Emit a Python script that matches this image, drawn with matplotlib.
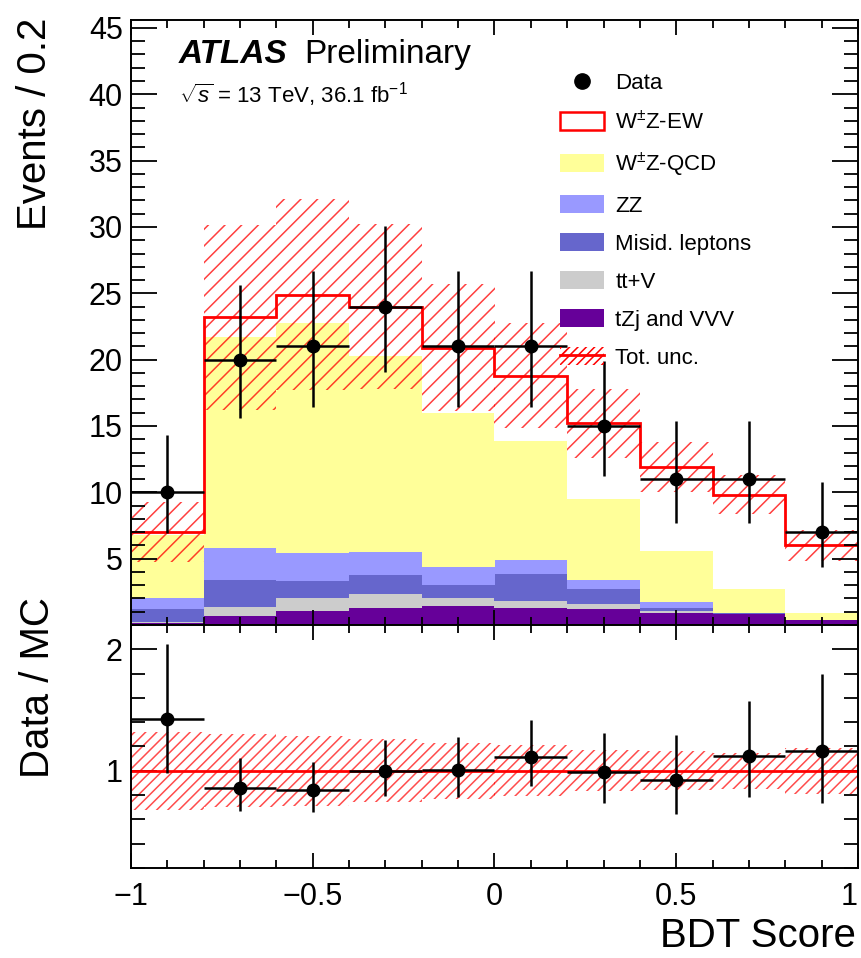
import numpy as np
import matplotlib as mpl
mpl.use('Agg')
import matplotlib.pyplot as plt
from matplotlib.patches import Patch
from matplotlib.lines import Line2D

plt.rcParams['font.family'] = ['Liberation Sans', 'DejaVu Sans']
plt.rcParams['mathtext.fontset'] = 'custom'
plt.rcParams['mathtext.rm'] = 'Liberation Sans'
plt.rcParams['mathtext.it'] = 'Liberation Sans:italic'
plt.rcParams['hatch.linewidth'] = 1.1

# binning of the BDT score
bin_edges = [-1.0, -0.8, -0.6, -0.4, -0.2, 0.0, 0.2, 0.4, 0.6, 0.8, 1.0]

# observed events and asymmetric errors
data = [10, 20, 21, 24, 21, 21, 15, 11, 11, 7]
data_up = [4.3, 5.6, 5.7, 6.1, 5.7, 5.7, 4.9, 4.4, 4.4, 3.8]
data_dn = [3.1, 4.4, 4.6, 4.9, 4.6, 4.6, 3.8, 3.3, 3.3, 2.6]

# predicted yields per process (stacked bottom -> top)
tzj_vvv = [0.15, 0.68, 1.06, 1.26, 1.43, 1.30, 1.18, 0.93, 0.80, 0.35]
ttv = [0.10, 0.68, 1.00, 1.04, 0.63, 0.50, 0.40, 0.10, 0.03, 0.01]
misid = [0.95, 2.04, 1.24, 1.47, 0.93, 2.07, 1.11, 0.27, 0.04, 0.01]
zz = [0.85, 2.40, 2.15, 1.76, 1.38, 1.03, 0.68, 0.40, 0.05, 0.01]
wz_qcd = [4.75, 15.9, 17.35, 14.77, 11.63, 9.0, 6.13, 3.9, 1.78, 0.52]
wz_ew = [0.2, 1.5, 2.1, 3.7, 4.9, 4.9, 5.7, 6.3, 7.1, 5.1]

# relative total uncertainty on the prediction
rel_unc = [0.32, 0.30, 0.29, 0.26, 0.23, 0.21, 0.17, 0.16, 0.15, 0.19]

x_ticks = [-1, -0.5, 0, 0.5, 1]
x_tick_labels = ['\u22121', '\u22120.5', '0', '0.5', '1']
y_ticks = [5, 10, 15, 20, 25, 30, 35, 40, 45]
r_ticks = [1, 2]

stack = [
    (tzj_vvv, '#660099', 'tZj and VVV'),
    (ttv, '#cccccc', 'tt+V'),
    (misid, '#6666cc', 'Misid. leptons'),
    (zz, '#9999ff', 'ZZ'),
    (wz_qcd, '#ffff99', r'W$^{\pm}$Z-QCD'),
    (wz_ew, 'white', r'W$^{\pm}$Z-EW'),
]

edges = np.array(bin_edges)
centers = 0.5 * (edges[1:] + edges[:-1])
width = np.diff(edges)

fig = plt.figure(figsize=(8.61, 9.58), dpi=100)
W, H = 861.0, 958.0
ax = fig.add_axes([131 / W, 1 - 625 / H, 727 / W, 605 / H])
ax2 = fig.add_axes([131 / W, 1 - 868 / H, 727 / W, 243 / H], sharex=ax)

bottom = np.zeros(len(data))
for vals, col, lab in stack:
    ax.bar(centers, vals, width=width, bottom=bottom, color=col, linewidth=0)
    bottom = bottom + np.array(vals)
total = bottom

ax.stairs(total, edges, baseline=None, color='red', lw=2)
unc = total * np.array(rel_unc)
ax.bar(centers, 2 * unc, width=width, bottom=total - unc, fill=False,
       hatch='//', edgecolor='red', linewidth=0, alpha=0.75)

ax.errorbar(centers, data, xerr=width / 2, yerr=[data_dn, data_up], fmt='o',
            color='black', ms=9, elinewidth=1.8, capsize=0)

ax.set_xlim(-1, 1)
ax.set_ylim(0, 45.6)
ax.set_yticks(y_ticks)
ax.yaxis.set_minor_locator(mpl.ticker.MultipleLocator(1))
ax.xaxis.set_minor_locator(mpl.ticker.MultipleLocator(0.1))
ax.tick_params(labelbottom=False)

# ratio panel
ratio = np.array(data) / total
r_up = np.array(data_up) / total
r_dn = np.array(data_dn) / total
ax2.bar(centers, 2 * np.array(rel_unc), width=width, bottom=1 - np.array(rel_unc),
        fill=False, hatch='///', edgecolor='red', linewidth=0, alpha=0.7)
ax2.axhline(1, color='red', lw=2)
ax2.errorbar(centers, ratio, xerr=width / 2, yerr=[r_dn, r_up], fmt='o',
             color='black', ms=9, elinewidth=1.8, capsize=0)
ax2.set_ylim(0.2, 2.2)
ax2.set_yticks(r_ticks)
ax2.yaxis.set_minor_locator(mpl.ticker.MultipleLocator(0.2))
ax2.set_xticks(x_ticks, labels=x_tick_labels)
ax2.get_xticklabels()[-1].set_horizontalalignment('right')

for a in (ax, ax2):
    a.tick_params(which='both', direction='in', top=True, right=True, width=1.3,
                  labelsize=22)
    a.tick_params(axis='y', which='major', length=19, pad=6)
    a.tick_params(axis='y', which='minor', length=10)
    a.tick_params(axis='x', which='major', length=11, pad=10)
    a.tick_params(axis='x', which='minor', length=6)
    for s in a.spines.values():
        s.set_linewidth(1.4)

fig.text(35 / W, 1 - 18 / H, 'Events / 0.2', rotation=90, ha='center', va='top', fontsize=29)
fig.text(38 / W, 1 - 597 / H, 'Data / MC', rotation=90, ha='center', va='top', fontsize=29)
fig.text(856 / W, 1 - 955 / H, 'BDT Score', ha='right', va='bottom', fontsize=29)

fig.text(179 / W, 1 - 63 / H, 'ATLAS', fontsize=24, fontweight='bold', fontstyle='italic',
         va='baseline')
fig.text(304 / W, 1 - 63 / H, 'Preliminary', fontsize=24, va='baseline')
fig.text(179 / W, 1 - 103 / H, r'$\sqrt{s}$ = 13 TeV, 36.1 fb$^{-1}$', fontsize=16,
         va='baseline')

handles = [Line2D([], [], marker='o', color='black', ls='none', ms=11)]
labels = ['Data']
for vals, col, lab in reversed(stack):
    if col == 'white':
        handles.append(Patch(facecolor='white', edgecolor='red', lw=1.8))
    else:
        handles.append(Patch(facecolor=col, edgecolor='none'))
    labels.append(lab)
handles.append((Patch(facecolor='none', edgecolor='red', hatch='////', lw=0),
                Line2D([], [], color='red', lw=2)))
labels.append('Tot. unc.')
ax.legend(handles, labels, loc='upper left', bbox_to_anchor=(0.59, 0.913),
          frameon=False, fontsize=16, handlelength=2.0, handleheight=0.85,
          labelspacing=0.74, handletextpad=0.5, borderpad=0, borderaxespad=0)

fig.savefig('out.png', dpi=100)
